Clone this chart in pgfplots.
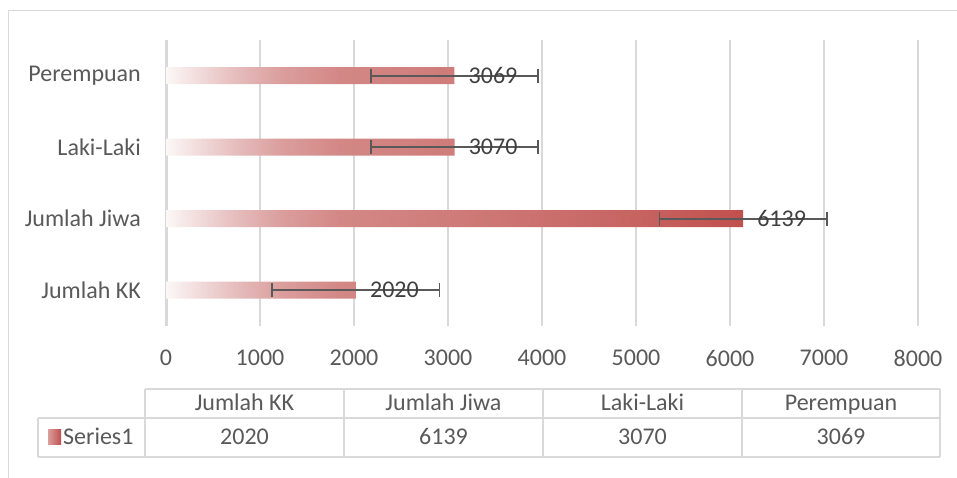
\documentclass[border=0pt]{standalone}
\usepackage{pgfplots}
\pgfplotsset{compat=1.18}
\usepackage{fontspec}
\setmainfont{Carlito}
\definecolor{txt}{HTML}{595959}
\definecolor{lbl}{HTML}{404040}
\definecolor{gridc}{HTML}{D9D9D9}
\definecolor{barred}{HTML}{C0504D}
\definecolor{s0}{HTML}{FCF7F7}
\definecolor{s1}{HTML}{F3DEDE}
\definecolor{s2}{HTML}{E6BDBD}
\definecolor{s3}{HTML}{DA9E9D}
\definecolor{s4}{HTML}{D38886}
\definecolor{s5}{HTML}{CF7C7A}
\definecolor{s6}{HTML}{CB706E}
\definecolor{s7}{HTML}{C76462}
\pgfdeclarehorizontalshading{barshade}{100bp}{color(0bp)=(s0); color(25bp)=(s0); color(27.5bp)=(s1); color(31bp)=(s2); color(35bp)=(s3); color(40bp)=(s4); color(49.5bp)=(s5); color(57.5bp)=(s6); color(65.5bp)=(s7); color(75bp)=(barred); color(100bp)=(barred)}
\pgfplotstableread{
y x
0 2020
1 6139
2 3070
3 3069
}\datatab
\begin{document}
\begin{tikzpicture}[x=1pt,y=1pt]
\useasboundingbox (0,0) rectangle (957,478);
% outer chart border
\draw[gridc, line width=1.5pt] (8.5,0) -- (8.5,467.5) -- (957,467.5);
\begin{axis}[
  at={(166pt,152pt)}, anchor=south west,
  width=752pt, height=286pt, scale only axis,
  xmin=0, xmax=8000, ymin=-0.5, ymax=3.5,
  xtick={0,1000,...,8000},
  ytick={0,1,2,3},
  yticklabels={Jumlah KK, Jumlah Jiwa, Laki-Laki, Perempuan},
  axis line style={draw=none},
  major tick length=0pt,
  xmajorgrids, grid style={gridc, line width=1.5pt},
  extra x ticks={0}, extra x tick labels={},
  extra x tick style={grid style={gridc, line width=3pt}},
  scaled x ticks=false,
  /pgf/number format/1000 sep={},
  /pgf/number format/assume math mode=true,
  tick label style={font=\fontsize{24}{28}\selectfont, text=txt},
  yticklabel style={inner sep=0pt, anchor=east, xshift=-25pt},
  xticklabel style={inner sep=0pt, anchor=north, yshift=-24pt},
  clip=false,
]
\addplot[xbar, bar width=17pt, draw=none, shade, shading=barshade,
  point meta=x,
  nodes near coords,
  nodes near coords style={font=\fontsize{24}{28}\selectfont, text=lbl, anchor=west, inner sep=0pt, xshift=14pt},
  error bars/.cd, x dir=both, x fixed=890,
  error bar style={line width=1.8pt, color=txt},
  error mark options={line width=1.8pt, mark size=7pt, color=txt, rotate=90},
] table[x=x, y=y] {\datatab};
\end{axis}
% data table
\begin{scope}[gridc, line width=1.5pt]
\draw (145,89) -- (940,89);
\draw (38,60) -- (940,60);
\draw (38,21) -- (940,21);
\draw (38,60) -- (38,21);
\foreach \xx in {145,344,543,742,940} { \draw (\xx,89) -- (\xx,21); }
\end{scope}
\begin{scope}[font=\fontsize{24}{28}\selectfont, text=txt, every node/.style={anchor=base, inner sep=0pt}]
\node at (244.5,67.5) {Jumlah KK};
\node at (443.5,67.5) {Jumlah Jiwa};
\node at (642.5,67.5) {Laki-Laki};
\node at (841,67.5) {Perempuan};
\node at (244.5,33) {2020};
\node at (443.5,33) {6139};
\node at (642.5,33) {3070};
\node at (841,33) {3069};
\node[anchor=base west] at (63,33) {Series1};
\end{scope}
\shade[left color=s3, right color=barred] (48,33) rectangle (61,48);
\end{tikzpicture}
\end{document}
